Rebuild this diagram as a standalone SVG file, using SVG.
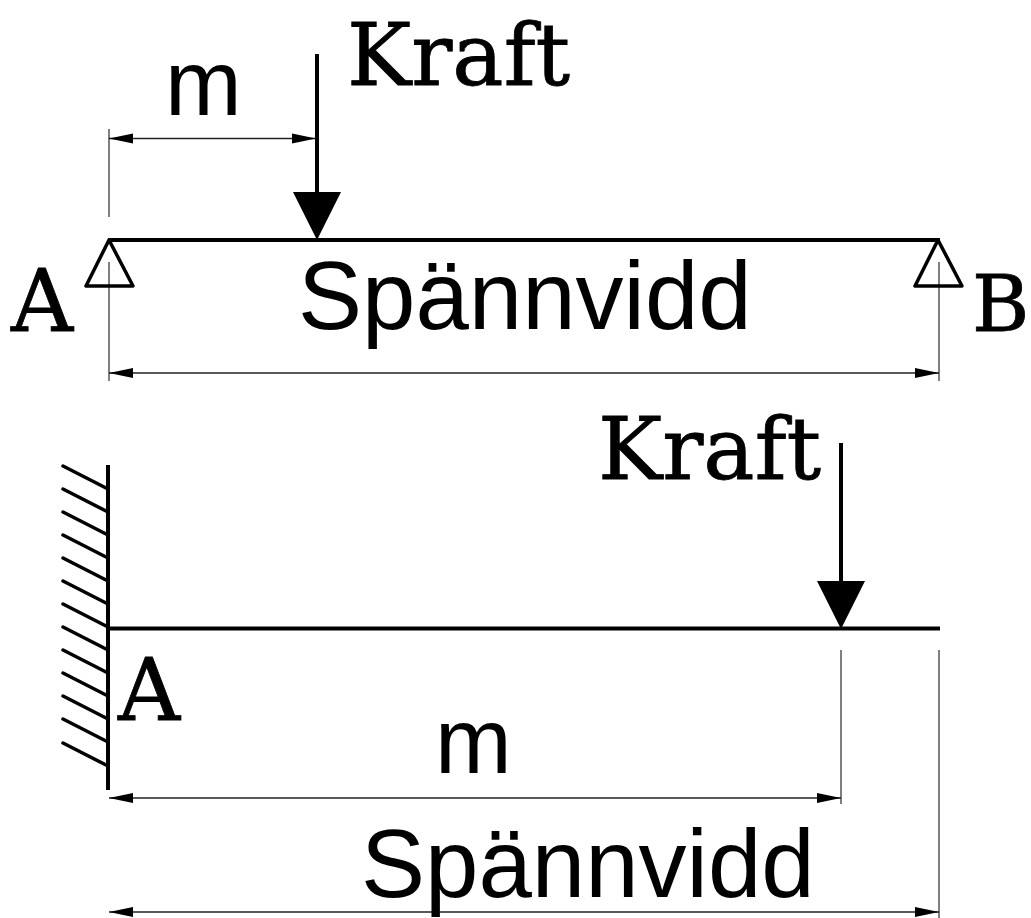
<svg xmlns="http://www.w3.org/2000/svg" width="1031" height="918" viewBox="0 0 1031 918">
<style>
.thick{stroke:#000;stroke-width:4;fill:none}
.thin{stroke:#555;stroke-width:1.5;fill:none}
.dim{stroke:#222;stroke-width:1.5;fill:none;marker-start:url(#ds);marker-end:url(#de)}
.head{fill:#000}
.sup{fill:none;stroke:#000;stroke-width:3.5;stroke-linejoin:round}
.h{stroke:#000;stroke-width:3.5;fill:none;stroke-linecap:round}
.s{font-family:"Liberation Sans",Arial,sans-serif;font-size:96px;fill:#000}
.m{font-family:"Liberation Sans",Arial,sans-serif;font-size:92px;fill:#000}
.c{font-family:"DejaVu Serif","Liberation Serif",serif;font-size:86px;fill:#000;stroke:#000;stroke-width:.8}
.b{font-size:78px}
</style>
<defs>
<marker id="de" markerUnits="userSpaceOnUse" markerWidth="24" markerHeight="12" refX="24" refY="6" orient="auto"><path d="M0 1 L24 6 L0 11Z" fill="#000"/></marker>
<marker id="ds" markerUnits="userSpaceOnUse" markerWidth="24" markerHeight="12" refX="0" refY="6" orient="auto"><path d="M24 1 L0 6 L24 11Z" fill="#000"/></marker>
</defs>
<rect width="1031" height="918" fill="#fff"/>
<g id="connectors">
<path class="thin" d="M109 129V217M109 262V381M939 262V381M841 650V804M939 650V918"/>
<path class="dim" d="M109 138.500H316"/>
<path class="dim" d="M109 373H939"/>
<path class="dim" d="M109 798H841"/>
<path class="dim" d="M109 912H939"/>
</g>
<g id="beam-top"><path class="thick" d="M108 240H940"/></g>
<g id="force-top"><path class="thick" d="M317 54V195"/><path class="head" d="M293 192H341L317 240Z"/></g>
<g id="support-a"><path class="sup" d="M109 240L86 286H133Z"/></g>
<g id="support-b"><path class="sup" d="M938 240L915 286H962Z"/></g>
<g id="wall">
<path class="thick" d="M108 465V790"/>
<path class="h" d="M63 466L108 489M63 489L108 512M63 512L108 535M63 535L108 558M63 558L108 581M63 581L108 604M63 604L108 627M63 627L108 650M63 650L108 673M63 673L108 696M63 696L108 719M63 719L108 742M63 743L108 766"/>
</g>
<g id="beam-bottom"><path class="thick" d="M108 628.500H940"/></g>
<g id="force-bottom"><path class="thick" d="M841 443V585"/><path class="head" d="M817 581H865L841 629Z"/></g>
<g id="labels">
<text class="c" x="347" y="85">Kraft</text>
<text class="m" x="165" y="115">m</text>
<text class="c" x="11" y="331">A</text>
<text class="s" x="298" y="329">Spännvidd</text>
<text class="c b" x="972" y="331">B</text>
<text class="c" x="598" y="479">Kraft</text>
<text class="c" x="118" y="720">A</text>
<text class="m" x="435" y="773">m</text>
<text class="s" x="361" y="897">Spännvidd</text>
</g>
</svg>
